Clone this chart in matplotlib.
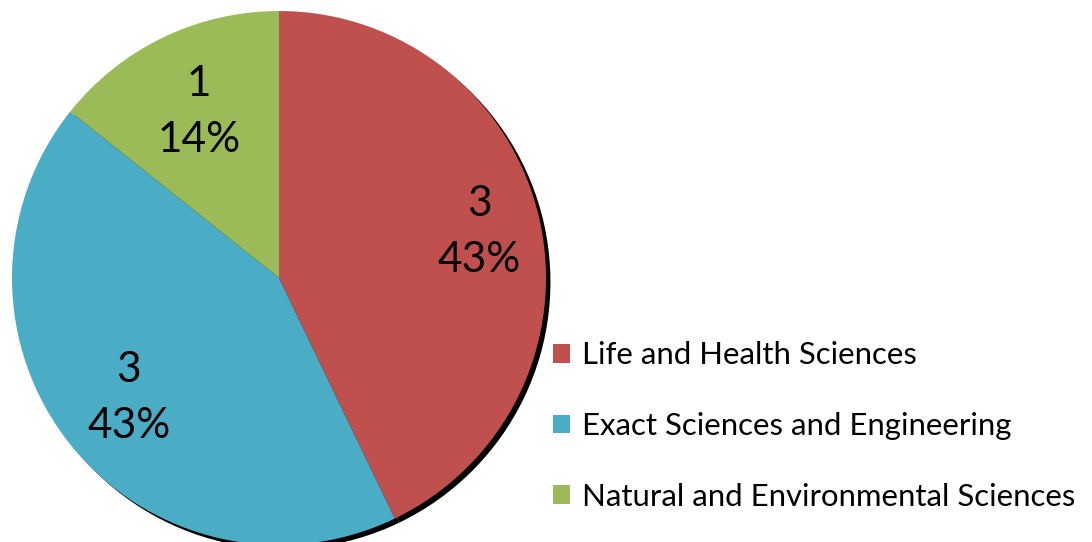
import matplotlib
matplotlib.use("Agg")
import matplotlib.pyplot as plt
import numpy as np

# data
categories = ["Life and Health Sciences", "Exact Sciences and Engineering",
              "Natural and Environmental Sciences"]
counts = [3, 3, 1]
colors = ["#c0504d", "#4bacc6", "#9bbb59"]
label_dist = [0.77, 0.72, 0.69]   # how far out each slice label sits

plt.rcParams["font.family"] = ["Lato", "DejaVu Sans"]

W, H = 1092, 542
fig = plt.figure(figsize=(W / 100, H / 100), dpi=100)
# square axes holding the pie: radius 267 px, centre at (279, 278) px from top-left
r_px = 267
ax = fig.add_axes([(279 - r_px) / W, (H - 278 - r_px) / H, 2 * r_px / W, 2 * r_px / H])

total = sum(counts)


def fmt(pct):
    n = int(round(pct * total / 100))
    return f"{n}\n{pct:.0f}%"


wedges, _, autotexts = ax.pie(
    counts, colors=colors, startangle=90, counterclock=False, radius=1,
    autopct=fmt, pctdistance=0.73,
    wedgeprops=dict(linewidth=0),
    shadow=dict(ox=0.012, oy=-0.011, shade=1.0, alpha=1.0),
    textprops=dict(fontsize=30.5, color="black", linespacing=1.57),
)
# nudge each label along its slice's middle angle
for w, t, d in zip(wedges, autotexts, label_dist):
    mid = np.deg2rad((w.theta1 + w.theta2) / 2)
    t.set_position((d * np.cos(mid), d * np.sin(mid)))

ax.set_xlim(-1, 1)
ax.set_ylim(-1, 1)
ax.set_aspect("equal")
ax.axis("off")

fig.legend(wedges, categories, loc="center left",
           bbox_to_anchor=(553 / W, 1 - 426 / H),
           frameon=False, fontsize=22.4, handlelength=0.55, handleheight=0.55,
           handletextpad=0.39, labelspacing=1.37, borderpad=0, borderaxespad=0)

fig.savefig("out.png", dpi=100)
